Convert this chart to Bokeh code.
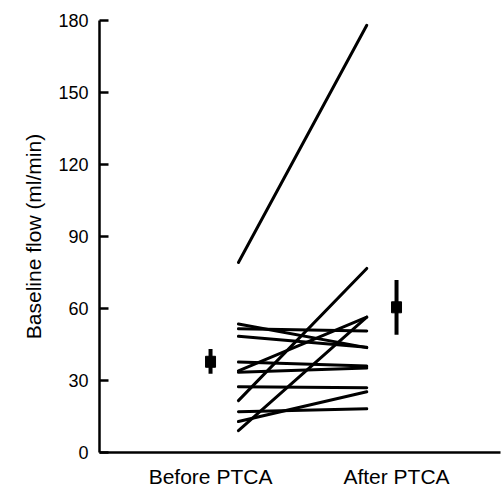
from bokeh.plotting import figure
from bokeh.models import FixedTicker, Range1d, ColumnDataSource
from bokeh.embed import file_html
from bokeh.resources import INLINE

# ---- data ----
categories = ["Before PTCA", "After PTCA"]
before_flow = [79.2, 53.5, 51.6, 48.4, 37.7, 34.0, 33.4, 27.4, 21.6, 17.0, 12.9, 9.1]
after_flow = [178.0, 43.7, 50.6, 43.9, 36.0, 56.4, 35.2, 27.0, 76.7, 18.2, 25.3, 56.4]
mean_flow = [37.8, 60.5]
err_low = [32.8, 49.1]
err_high = [43.1, 71.9]
y_ticks = [0, 30, 60, 90, 120, 150, 180]

# ---- positions ----
cat_pos = [1, 2]
LINE_X0, LINE_X1 = 1.15, 1.84
n = len(before_flow)

FONT = "Liberation Sans"

p = figure(width=502, height=490, output_backend="svg", toolbar_location=None,
           x_range=Range1d(0.403, 2.559), y_range=Range1d(0, 180),
           min_border_left=99, min_border_right=2, min_border_top=20,
           min_border_bottom=36)
p.outline_line_color = None
p.grid.visible = False
p.background_fill_color = "white"
p.border_fill_color = "white"

lines = ColumnDataSource(dict(x0=[LINE_X0] * n, x1=[LINE_X1] * n,
                              y0=before_flow, y1=after_flow))
p.segment(x0="x0", y0="y0", x1="x1", y1="y1", source=lines,
          line_width=3, line_color="black", line_cap="round")

summ = ColumnDataSource(dict(x=cat_pos, m=mean_flow, lo=err_low, hi=err_high))
p.segment(x0="x", y0="lo", x1="x", y1="hi", source=summ,
          line_width=4, line_color="black")
p.rect(x="x", y="m", width=10, height=11, width_units="screen",
       height_units="screen", source=summ, color="black")

# y axis
ya = p.yaxis[0]
ya.ticker = FixedTicker(ticks=y_ticks)
ya.axis_label = "Baseline flow (ml/min)"
ya.axis_label_text_font = FONT
ya.axis_label_text_font_size = "21px"
ya.axis_label_text_font_style = "normal"
ya.axis_label_text_color = "black"
ya.axis_label_standoff = 10
ya.major_label_text_font = FONT
ya.major_label_text_font_size = "18px"
ya.major_label_text_color = "black"
ya.major_label_standoff = 11
ya.major_tick_in = 9
ya.major_tick_out = 0
ya.major_tick_line_width = 2.5
ya.major_tick_line_color = "black"
ya.minor_tick_line_color = None
ya.axis_line_width = 2.5
ya.axis_line_color = "black"

# x axis
xa = p.xaxis[0]
xa.ticker = FixedTicker(ticks=cat_pos)
xa.major_label_overrides = {pos: lab for pos, lab in zip(cat_pos, categories)}
xa.major_label_text_font = FONT
xa.major_label_text_font_size = "21px"
xa.major_label_text_color = "black"
xa.major_label_standoff = 12
xa.major_tick_in = 0
xa.major_tick_out = 0
xa.minor_tick_line_color = None
xa.axis_line_width = 2.5
xa.axis_line_color = "black"

open("out.html", "w").write(file_html(p, INLINE))
